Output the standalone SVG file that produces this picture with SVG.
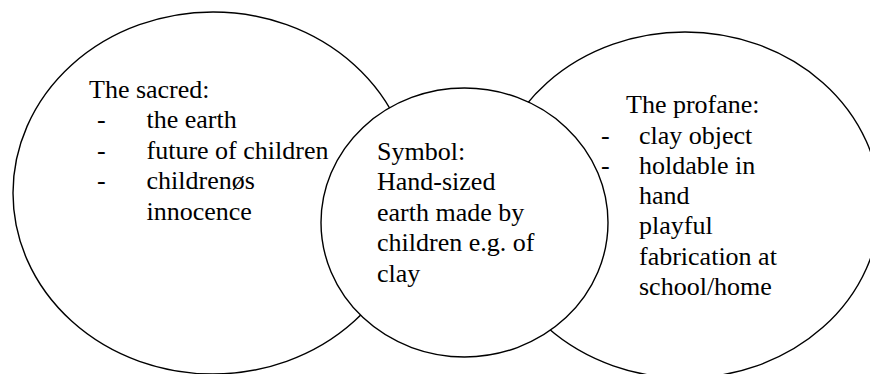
<svg xmlns="http://www.w3.org/2000/svg" width="870" height="374" viewBox="0 0 870 374">
<style>
.shape{fill:#ffffff;stroke:#000000;stroke-width:1.4}
text{font-family:'Liberation Serif','Tinos','Times New Roman','DejaVu Serif',serif;font-size:26px;fill:#000000}
</style>
<rect x="0" y="0" width="870" height="374" fill="#ffffff"/>
<g id="connectors"></g>
<g id="sacred">
<ellipse class="shape" cx="213" cy="193" rx="200" ry="181"/>
</g>
<g id="profane">
<ellipse class="shape" cx="685" cy="205" rx="195" ry="173"/>
</g>
<g id="symbol">
<ellipse class="shape" cx="464.5" cy="222.5" rx="143.5" ry="134.5"/>
</g>
<g id="sacred-text" font-family="Liberation Serif, serif">
<text x="89" y="97.5">The sacred:</text>
<text x="97" y="128">-</text>
<text x="146.5" y="128">the earth</text>
<text x="97" y="158.5">-</text>
<text x="146.5" y="158.5">future of children</text>
<text x="97" y="189">-</text>
<text x="146.5" y="189">childrenøs</text>
<text x="146.5" y="219.5">innocence</text>
</g>
<g id="symbol-text">
<text x="377" y="159.5">Symbol:</text>
<text x="377" y="190">Hand-sized</text>
<text x="377" y="220.5">earth made by</text>
<text x="377" y="251">children e.g. of</text>
<text x="377" y="281.5">clay</text>
</g>
<g id="profane-text">
<text x="626" y="113">The profane:</text>
<text x="601" y="143.5">-</text>
<text x="639" y="143.5">clay object</text>
<text x="601" y="174">-</text>
<text x="639" y="174">holdable in</text>
<text x="639" y="204">hand</text>
<text x="639" y="234">playful</text>
<text x="639" y="264.5">fabrication at</text>
<text x="639" y="294.5">school/home</text>
</g>
</svg>
